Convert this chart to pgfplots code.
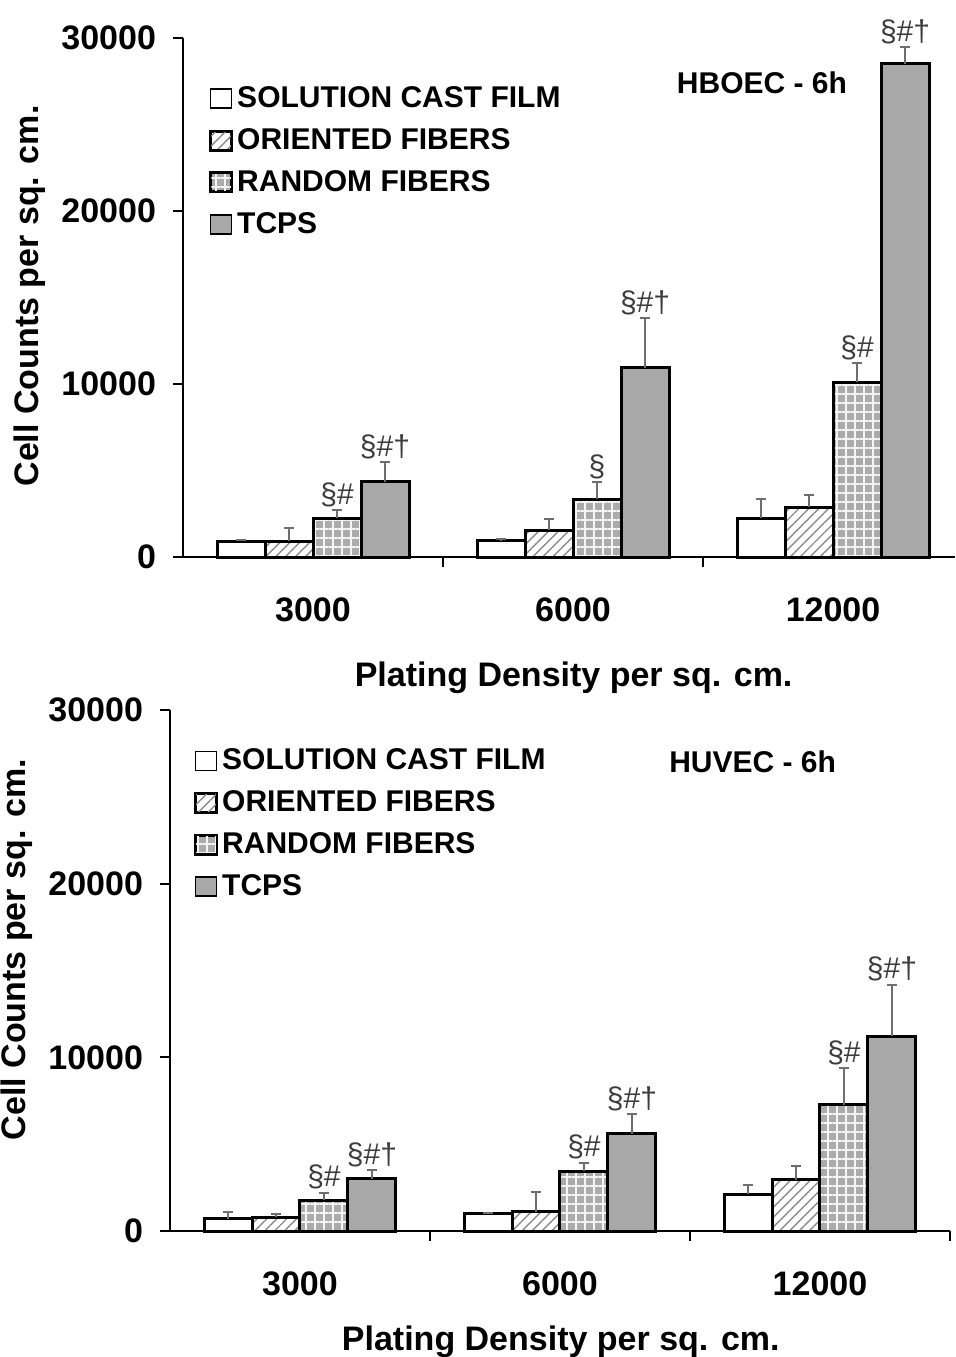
\documentclass[border=0pt]{standalone}
\usepackage{fontspec}
\setmainfont{Liberation Sans}
\usepackage{pgfplots}
\pgfplotsset{compat=1.18}
\usetikzlibrary{patterns.meta}

\definecolor{tcpsgray}{HTML}{A8A8A8}
\definecolor{rfgray}{HTML}{ABABAB}
\definecolor{errgray}{HTML}{6E6E6E}
\definecolor{notegray}{HTML}{3C3C3C}

\newcommand{\bigfont}{\fontsize{17}{20}\selectfont\bfseries}
\newcommand{\legfont}{\fontsize{15}{18}\selectfont\bfseries}
\newcommand{\notefont}{\fontsize{15}{18}\selectfont}

\pgfplotsset{
  cellpanel/.style={
    scale only axis,
    anchor=south west,
    ybar, bar width=0.1846,
    ymin=0, ymax=30000, xmin=-0.5,
    axis lines=left,
    axis line style={-, line width=1.2pt},
    tick align=outside,
    major tick length=5pt,
    tick style={black, line width=1pt},
    ytick={0,10000,20000,30000},
    scaled y ticks=false,
    yticklabel style={font=\bigfont, xshift=-5pt, /pgf/number format/1000 sep={},
      /pgf/number format/assume math mode=true},
    xtick={0.5,1.5,2.5},
    xticklabels={},
    extra x ticks={0,1,2},
    extra x tick labels={3000,6000,12000},
    extra x tick style={major tick length=0pt, xticklabel style={font=\bigfont, yshift=-17pt}},
    xlabel={Plating Density per sq. cm.},
    ylabel={Cell Counts per sq. cm.},
    label style={font=\bigfont},
    clip=false,
    legend style={draw=none, fill=none, font=\legfont, anchor=north west,
      inner sep=0pt, row sep=7pt, nodes={inner sep=1pt},
      /tikz/every odd column/.style={column sep=1.5pt}},
    legend cell align=left,
    legend image code/.code={\draw[##1, line width=0.8pt] (0pt,-4.75pt) rectangle (10.5pt,4.75pt);},
  },
  errs/.style={
    error bars/y dir=plus, error bars/y explicit,
    error bars/error bar style={errgray, line width=1pt},
    error bars/error mark options={errgray, line width=1pt, mark size=2.5pt, rotate=90},
  },
  scf/.style={errs, fill=white, draw=black, line width=1.5pt, bar shift=-0.2769},
  of/.style={errs, draw=black, line width=1.5pt, bar shift=-0.0923,
    preaction={fill=white}, pattern={Lines[angle=45,distance=3.5pt,line width=0.7pt]}, pattern color=gray!90},
  rf/.style={errs, draw=black, line width=1.5pt, bar shift=0.0923,
    preaction={fill=rfgray}, pattern={Hatch[angle=0,distance=4.5pt,line width=0.9pt]}, pattern color=white!92!gray},
  tcps/.style={errs, fill=tcpsgray, draw=black, line width=1.5pt, bar shift=0.2769},
  notes/.style={draw=none, fill=none, bar shift=0, forget plot, nodes near coords,
    point meta=explicit symbolic,
    nodes near coords style={font=\notefont, text=notegray, anchor=south, inner sep=1.5pt}},
}

\begin{document}
\begin{tikzpicture}
\path[use as bounding box] (0pt,0pt) rectangle (477.5pt,-678.5pt);

% HBOEC - 6h
\begin{axis}[cellpanel,
    at={(91.5pt,-278.5pt)}, width=386pt, height=259.5pt, xmax=2.469,
    legend style={at={(axis description cs:0.034,0.911)}},
    xlabel style={at={(axis description cs:0.506,0)}, anchor=base, yshift=-64.5pt},
    ylabel style={at={(axis description cs:-0.198,0.503)}, anchor=center},
]
\addplot[scf] coordinates {(0,925) +- (0,40) (1,950) +- (0,80) (2,2250) +- (0,1100)};
\addlegendentry{SOLUTION CAST FILM}
\addplot[of] coordinates {(0,925) +- (0,750) (1,1560) +- (0,640) (2,2890) +- (0,690)};
\addlegendentry{ORIENTED FIBERS}
\addplot[rf] coordinates {(0,2250) +- (0,460) (1,3350) +- (0,980) (2,10090) +- (0,1110)};
\addlegendentry{RANDOM FIBERS}
\addplot[tcps] coordinates {(0,4340) +- (0,1150) (1,10930) +- (0,2890) (2,28500) +- (0,960)};
\addlegendentry{TCPS}
\addplot[notes] coordinates {
    (0.0923,2710) [§\#] (0.2769,5490) [§\#†]
    (1.0923,4330) [§] (1.2769,13820) [§\#†]
    (2.0923,11200) [§\#] (2.2769,29460) [§\#†]};
\node[font=\legfont] at (rel axis cs:0.75,0.913) {HBOEC - 6h};
\end{axis}

% HUVEC - 6h
\begin{axis}[cellpanel,
    at={(85pt,-615.5pt)}, width=390pt, height=260.5pt, xmax=2.5,
    legend style={at={(axis description cs:0.031,0.93)}},
    xlabel style={at={(axis description cs:0.501,0)}, anchor=base, yshift=-59.5pt},
    ylabel style={at={(axis description cs:-0.197,0.54)}, anchor=center},
]
\addplot[scf] coordinates {(0,707) +- (0,380) (1,994) +- (0,60) (2,2103) +- (0,540)};
\addlegendentry{SOLUTION CAST FILM}
\addplot[of] coordinates {(0,805) +- (0,150) (1,1109) +- (0,1130) (2,2966) +- (0,790)};
\addlegendentry{ORIENTED FIBERS}
\addplot[rf] coordinates {(0,1782) +- (0,420) (1,3448) +- (0,480) (2,7276) +- (0,2110)};
\addlegendentry{RANDOM FIBERS}
\addplot[tcps] coordinates {(0,3006) +- (0,500) (1,5592) +- (0,1130) (2,11224) +- (0,2970)};
\addlegendentry{TCPS}
\addplot[notes] coordinates {
    (0.0923,2200) [§\#] (0.2769,3506) [§\#†]
    (1.0923,3928) [§\#] (1.2769,6722) [§\#†]
    (2.0923,9386) [§\#] (2.2769,14194) [§\#†]};
\node[font=\legfont] at (rel axis cs:0.747,0.900) {HUVEC - 6h};
\end{axis}
\end{tikzpicture}
\end{document}
